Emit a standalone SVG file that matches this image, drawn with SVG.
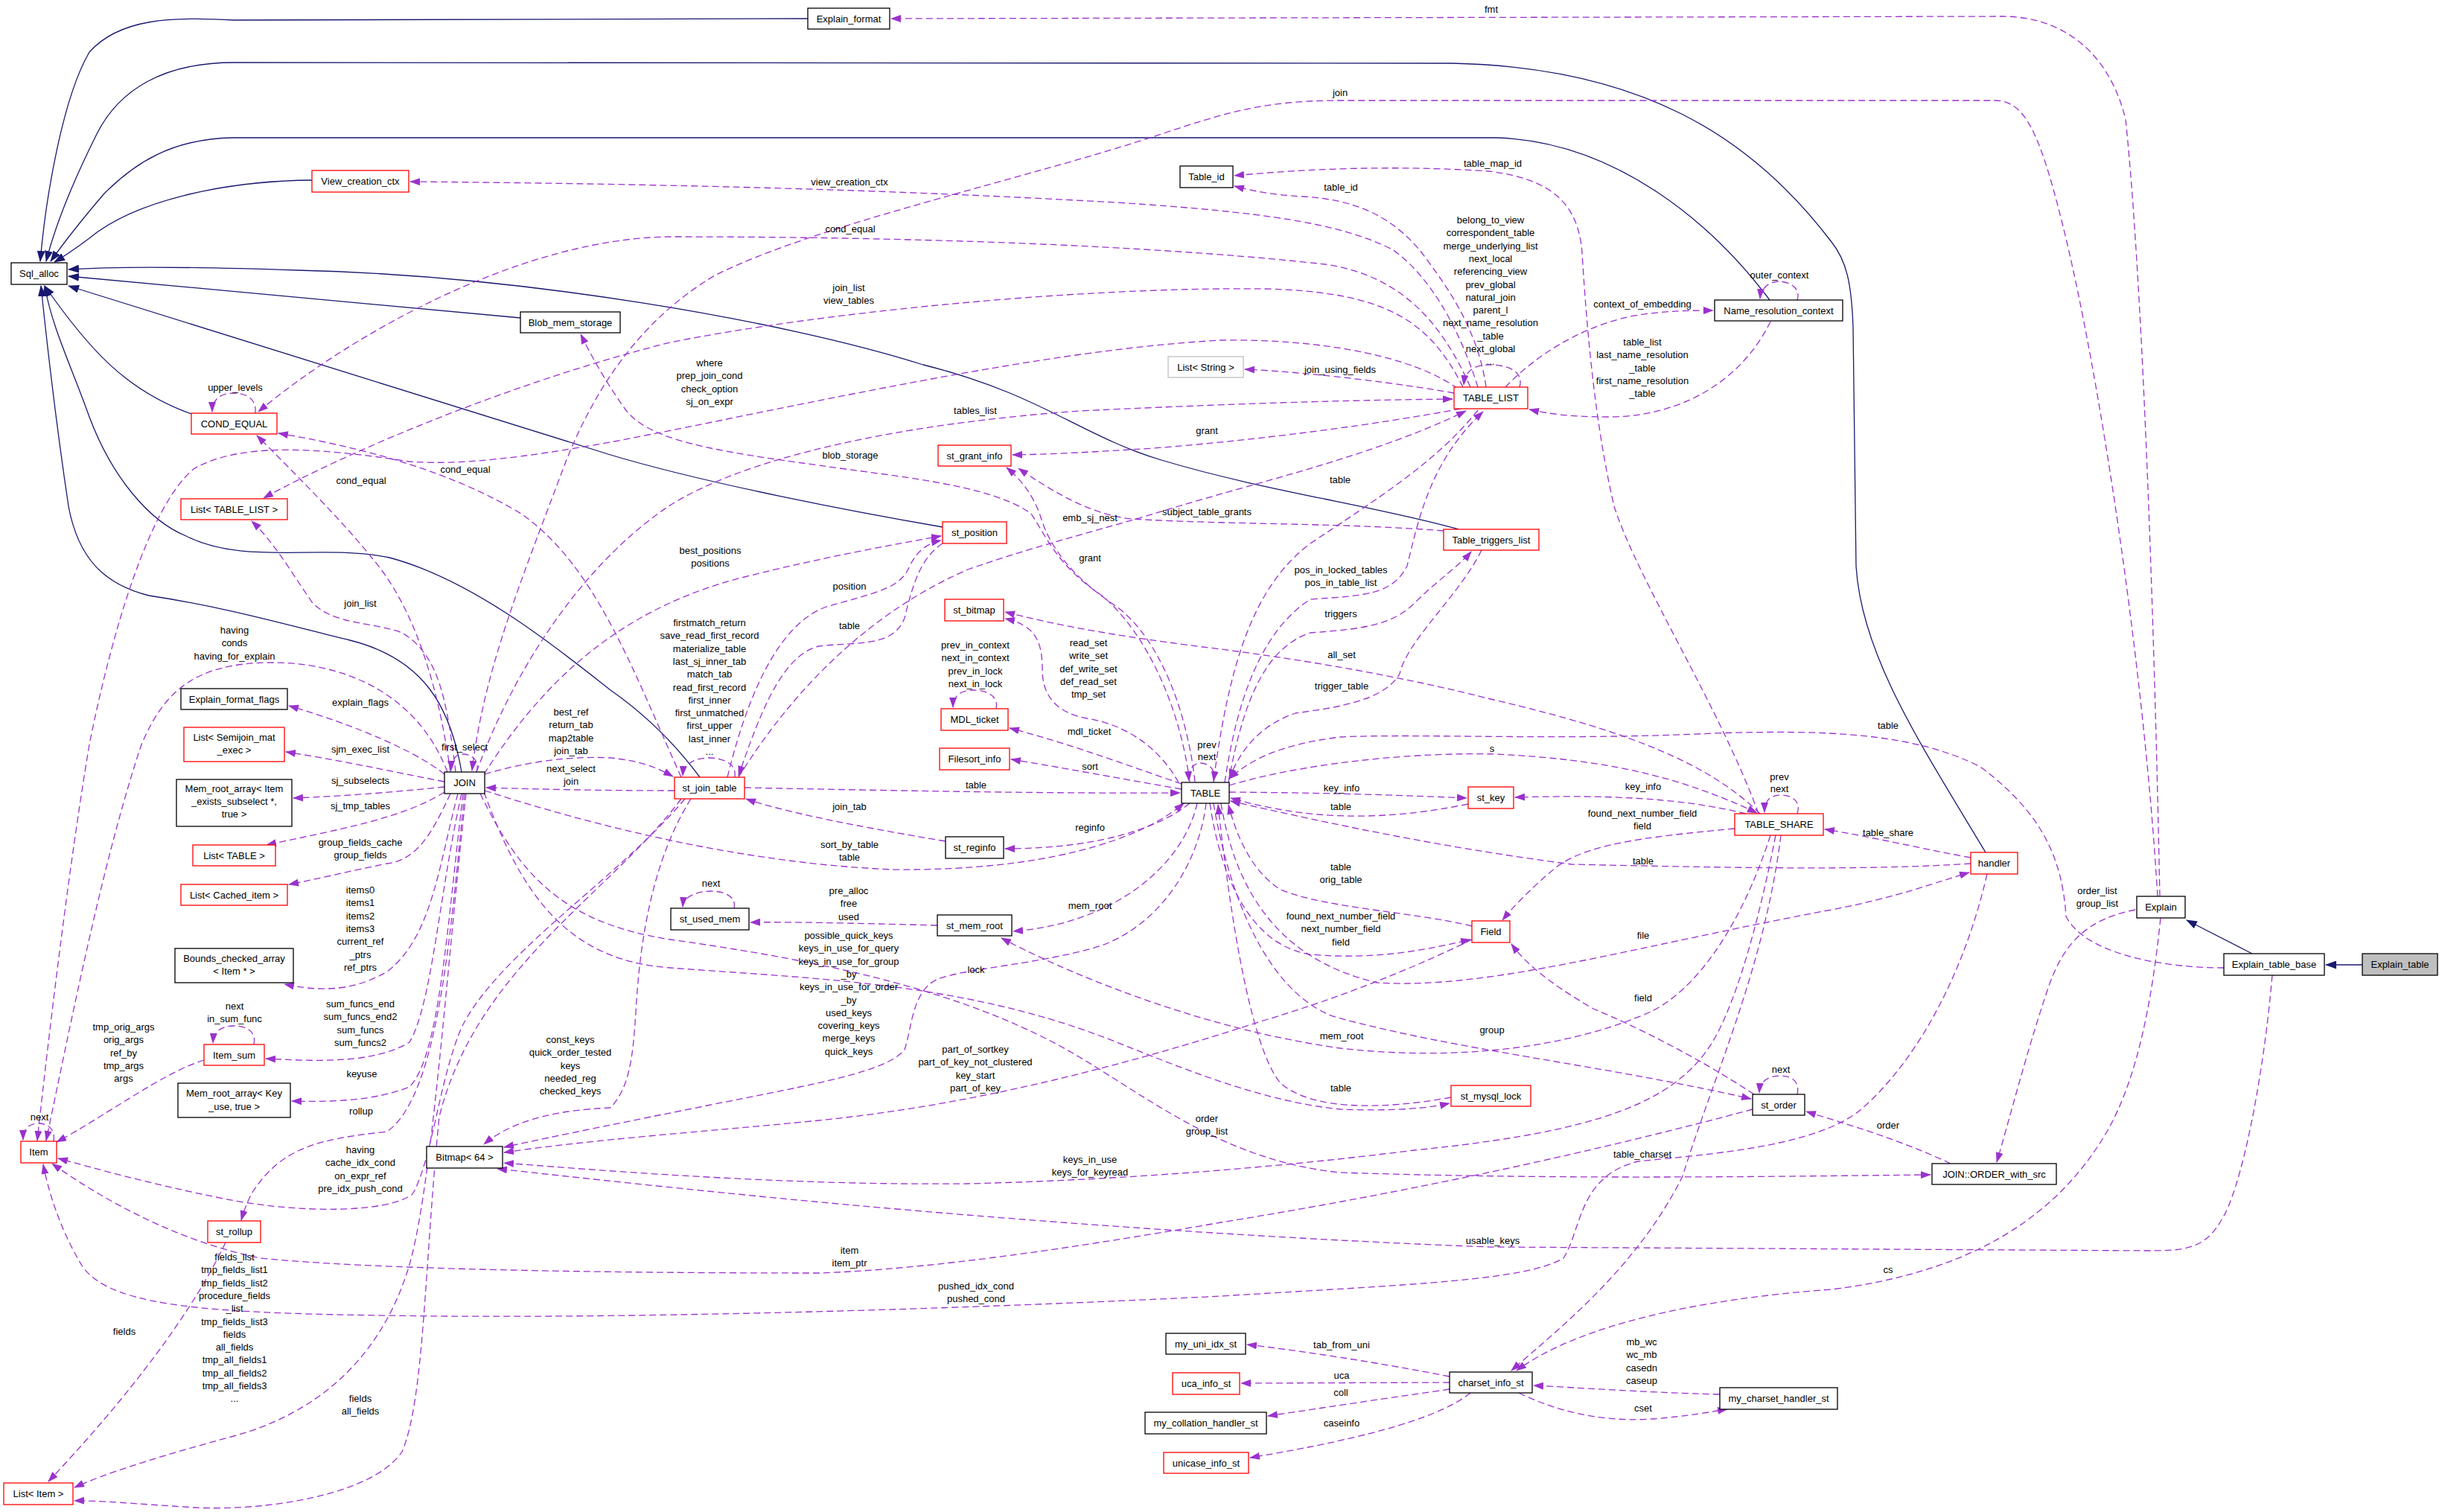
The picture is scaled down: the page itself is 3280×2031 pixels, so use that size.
<svg xmlns="http://www.w3.org/2000/svg" width="3280" height="2031" viewBox="0 0 3280 2031">
<style>
.t{font-family:"Liberation Sans",Arial,sans-serif;font-size:13px;text-anchor:middle;fill:#000}
.d{fill:none;stroke:#9a32cd;stroke-width:1.3;stroke-dasharray:9,5;marker-end:url(#ap)}
.n{fill:none;stroke:#191970;stroke-width:1.3;marker-end:url(#an)}
.b{fill:#fff;stroke:#000;stroke-width:1.3}
.r{fill:#fff;stroke:#f00;stroke-width:1.3}
.g{fill:#fff;stroke:#bfbfbf;stroke-width:1.3}
.f{fill:#bfbfbf;stroke:#000;stroke-width:1.3}
</style>
<defs>
<marker id="ap" viewBox="0 0 14 10" refX="13" refY="5" markerWidth="14" markerHeight="10" markerUnits="userSpaceOnUse" orient="auto"><path d="M0,0 L14,5 L0,10 z" fill="#9a32cd"/></marker>
<marker id="an" viewBox="0 0 15 11" refX="14" refY="5.5" markerWidth="15" markerHeight="11" markerUnits="userSpaceOnUse" orient="auto"><path d="M0,0 L15,5.5 L0,11 z" fill="#191970"/></marker>
</defs>
<rect width="3280" height="2031" fill="#fff"/>
<g id="edges">
<path class="n" d="M1085,25 L314,27 C230,22 160,25 120,70 C85,130 62,260 54,351"/>
<path class="n" d="M2667,1145 C2580,1000 2500,880 2493,760 L2489,440 C2487,380 2480,350 2460,325 C2350,180 2200,90 1950,85 L314,84 C220,84 160,120 130,180 C100,240 75,300 62,351"/>
<path class="n" d="M2377,403 C2300,300 2170,190 2010,185 L314,185 C230,186 180,220 140,260 C110,295 90,320 68,351"/>
<path class="n" d="M419,242 C300,243 180,270 120,320 C100,335 85,345 73,352"/>
<path class="n" d="M699,427 L92,371"/>
<path class="n" d="M1959,711 C1850,680 1700,660 1560,618 C1450,585 1400,530 1240,490 C1050,430 700,370 400,363 C250,358 150,358 92,362"/>
<path class="n" d="M1266,708 C1150,688 950,650 820,611 L92,384"/>
<path class="n" d="M257,556 C170,525 120,470 60,384"/>
<path class="n" d="M620,1037 C605,950 570,885 470,860 C380,838 300,815 200,800 C140,785 105,750 92,680 C80,600 65,480 55,384"/>
<path class="n" d="M940,1044 C900,990 860,955 820,927 C760,880 640,780 523,749 C430,730 330,760 250,720 C200,700 150,640 120,560 C95,490 70,440 60,384"/>
<path class="n" d="M3025,1281 L2937,1236"/>
<path class="n" d="M3173,1296 L3124,1296"/>

<path class="d" d="M2901,1204 C2895,900 2880,400 2855,160 C2830,60 2760,22 2690,22 L1197,25"/>
<path class="d" d="M2898,1204 C2880,900 2820,500 2770,300 C2740,180 2720,135 2680,135 L1800,135 C1700,135 1650,150 1560,180 C1380,240 1100,300 960,370 C860,430 800,520 760,620 C700,780 650,900 634,1035"/>
<path class="d" d="M2362,1093 C2310,950 2200,780 2168,680 C2140,560 2130,420 2125,340 C2120,270 2080,240 2000,230 C1880,222 1760,226 1658,236"/>
<path class="d" d="M1996,520 C1985,440 1940,380 1910,340 C1870,290 1820,268 1750,264 C1710,262 1680,256 1658,250"/>
<path class="d" d="M1985,520 C1960,440 1920,370 1870,335 C1800,300 1700,285 1500,272 C1200,255 900,247 551,244"/>
<path class="d" d="M1975,520 C1935,430 1880,370 1780,355 C1600,335 1300,318 900,318 C700,320 470,450 347,553"/>
<path class="d" d="M1965,520 C1920,430 1860,392 1700,388 C1450,385 1100,420 900,460 C700,510 480,600 354,669"/>
<path class="d" d="M1958,522 C1900,480 1780,455 1640,457 C1400,470 1100,540 820,594 C700,615 620,625 550,620 C420,600 320,595 260,630 C200,680 150,850 120,1000 C95,1150 70,1350 50,1532"/>
<path class="d" d="M2041,520 C2048,496 2020,490 2000,490 C1980,490 1968,498 1966,517"/>
<path class="d" d="M2414,403 C2420,385 2400,378 2390,378 C2375,378 2365,388 2364,401"/>
<path class="d" d="M2022,520 C2060,480 2120,440 2190,425 C2230,418 2260,417 2301,417"/>
<path class="d" d="M2378,432 C2340,510 2260,560 2160,560 C2110,560 2080,556 2054,550"/>
<path class="d" d="M1953,528 C1880,515 1760,500 1672,496"/>
<path class="d" d="M640,1037 C690,900 780,760 898,680 C1000,615 1200,570 1450,552 C1700,540 1850,537 1951,536"/>
<path class="d" d="M1962,549 C1850,570 1700,590 1550,602 C1470,607 1420,610 1360,611"/>
<path class="d" d="M1598,1050 C1585,950 1540,850 1480,800 C1420,760 1405,720 1385,690 C1330,650 1200,640 1100,625 C950,605 870,590 840,550 C815,515 795,480 780,449"/>
<path class="d" d="M1605,1050 C1595,960 1560,860 1500,815 C1440,775 1410,735 1398,695 C1388,665 1372,645 1352,628"/>
<path class="d" d="M1985,551 C1930,620 1850,670 1760,730 C1680,790 1650,900 1630,1049"/>
<path class="d" d="M343,555 C345,535 330,528 314,528 C298,528 285,535 285,553"/>
<path class="d" d="M915,1044 C850,900 800,760 700,690 C600,630 480,600 374,582"/>
<path class="d" d="M605,1037 C590,930 560,820 500,750 C460,700 400,640 345,585"/>
<path class="d" d="M1939,713 C1800,702 1650,705 1520,697 C1470,692 1420,665 1368,629"/>
<path class="d" d="M650,1040 C720,930 820,820 1000,775 C1100,750 1180,735 1264,720"/>
<path class="d" d="M977,1044 C1000,950 1040,840 1110,815 C1180,795 1210,790 1222,760 C1232,740 1245,730 1264,726"/>
<path class="d" d="M1266,730 C1235,750 1225,790 1215,830 C1200,870 1150,862 1100,868 C1050,880 1020,960 992,1042"/>
<path class="d" d="M987,1044 C990,1025 970,1018 952,1018 C935,1018 918,1025 917,1042"/>
<path class="d" d="M1338,952 C1342,935 1325,927 1308,927 C1290,927 1280,935 1280,950"/>
<path class="d" d="M1583,1051 C1560,1010 1520,975 1460,965 C1420,958 1400,935 1400,900 C1400,860 1390,840 1350,831"/>
<path class="d" d="M2364,1093 C2300,1030 2200,985 2006,940 C1850,900 1700,880 1640,872 C1500,855 1420,840 1350,822"/>
<path class="d" d="M1587,1053 C1520,1030 1440,1000 1356,978"/>
<path class="d" d="M1630,1051 C1635,1030 1620,1025 1612,1025 C1602,1025 1596,1035 1597,1049"/>
<path class="d" d="M1587,1060 C1500,1045 1420,1030 1358,1020"/>
<path class="d" d="M1000,1058 C1200,1062 1400,1066 1585,1065"/>
<path class="d" d="M1270,1130 C1150,1110 1050,1090 1002,1073"/>
<path class="d" d="M1598,1079 C1560,1110 1480,1140 1350,1140"/>
<path class="d" d="M651,1062 C800,1110 1000,1160 1200,1168 C1400,1170 1530,1130 1590,1079"/>
<path class="d" d="M986,1220 C990,1203 970,1197 955,1197 C935,1197 918,1205 917,1218"/>
<path class="d" d="M1259,1243 C1150,1240 1050,1238 1008,1239"/>
<path class="d" d="M1608,1079 C1590,1160 1500,1240 1361,1251"/>
<path class="d" d="M1620,1079 C1610,1160 1560,1240 1480,1270 C1400,1295 1300,1300 1260,1315 C1225,1330 1225,1380 1215,1410 C1190,1440 1100,1455 950,1485 C850,1505 750,1525 677,1541"/>
<path class="d" d="M650,1064 C700,1200 760,1290 900,1300 C1100,1315 1300,1320 1500,1400 C1600,1440 1700,1480 1800,1490 C1880,1493 1920,1488 1947,1482"/>
<path class="d" d="M645,1066 C700,1180 760,1240 900,1262 C1100,1290 1300,1330 1450,1420 C1550,1480 1650,1560 1800,1575 C2100,1585 2400,1580 2593,1578"/>
<path class="d" d="M1949,1474 C1850,1492 1760,1490 1720,1455 C1690,1420 1660,1300 1636,1081"/>
<path class="d" d="M1977,1262 C1900,1300 1800,1340 1700,1370 C1500,1435 1300,1485 1100,1505 C950,1520 800,1530 677,1548"/>
<path class="d" d="M1630,1079 C1650,1200 1700,1330 1790,1365 C1950,1410 2150,1430 2352,1476"/>
<path class="d" d="M2378,1122 C2340,1240 2280,1330 2215,1360 C2100,1410 1950,1425 1800,1408 C1600,1380 1420,1300 1345,1260"/>
<path class="d" d="M2385,1122 C2360,1250 2330,1350 2300,1400 C2250,1480 2150,1520 1900,1545 C1700,1570 1500,1585 1300,1590 C1100,1592 900,1580 677,1562"/>
<path class="d" d="M2392,1122 C2370,1300 2300,1450 2260,1580 C2200,1700 2100,1780 2030,1841"/>
<path class="d" d="M2902,1233 C2890,1350 2870,1450 2830,1520 C2760,1640 2640,1710 2460,1732 C2280,1745 2120,1780 2037,1841"/>
<path class="d" d="M3052,1310 C3040,1450 3010,1600 2983,1640 C2960,1680 2930,1680 2880,1680 L2000,1675 C1600,1660 1200,1625 1000,1605 C850,1590 760,1580 668,1570"/>
<path class="d" d="M2868,1222 C2800,1235 2770,1270 2750,1330 C2720,1420 2700,1500 2682,1561"/>
<path class="d" d="M2620,1563 C2550,1530 2480,1510 2426,1493"/>
<path class="d" d="M2414,1470 C2418,1452 2405,1445 2392,1445 C2375,1445 2364,1452 2363,1468"/>
<path class="d" d="M2356,1470 C2280,1420 2200,1380 2140,1355 C2080,1320 2050,1295 2030,1268"/>
<path class="d" d="M2354,1490 C2150,1545 1900,1600 1640,1642 C1450,1675 1250,1705 1100,1710 C800,1710 500,1705 350,1690 C250,1670 150,1620 70,1563"/>
<path class="d" d="M2669,1174 C2640,1300 2580,1420 2500,1490 C2440,1540 2300,1550 2200,1560 C2120,1580 2125,1650 2100,1690 C2050,1720 1900,1725 1640,1741 C1300,1758 900,1770 600,1768 C300,1765 150,1760 110,1700 C80,1650 65,1600 58,1564"/>
<path class="d" d="M1640,1079 C1660,1200 1720,1290 1850,1320 C2000,1330 2200,1270 2460,1222 C2550,1205 2600,1185 2645,1172"/>
<path class="d" d="M2647,1160 C2500,1170 2300,1165 2111,1161 C1950,1140 1800,1110 1653,1076"/>
<path class="d" d="M2647,1152 C2580,1140 2520,1125 2451,1114"/>
<path class="d" d="M2987,1300 C2900,1300 2800,1280 2775,1231 C2770,1150 2740,1090 2660,1030 C2570,985 2460,980 2300,985 C2100,995 1900,985 1800,990 C1720,1000 1680,1020 1651,1046"/>
<path class="d" d="M1651,1055 C1750,1025 1900,1010 2010,1013 C2150,1020 2250,1040 2360,1092"/>
<path class="d" d="M2414,1093 C2420,1075 2405,1068 2392,1068 C2378,1068 2370,1075 2370,1091"/>
<path class="d" d="M1651,1064 C1800,1065 1900,1069 1970,1072"/>
<path class="d" d="M1972,1080 C1850,1105 1750,1100 1653,1072"/>
<path class="d" d="M2345,1093 C2250,1070 2150,1068 2035,1071"/>
<path class="d" d="M2330,1113 C2200,1125 2130,1135 2090,1165 C2060,1190 2035,1215 2018,1236"/>
<path class="d" d="M1977,1244 C1900,1225 1780,1220 1720,1195 C1680,1170 1660,1120 1650,1081"/>
<path class="d" d="M1625,1079 C1640,1180 1680,1270 1760,1282 C1850,1290 1920,1275 1975,1262"/>
<path class="d" d="M1645,1051 C1660,950 1690,850 1760,805 C1830,800 1870,800 1890,760 C1905,700 1920,620 1992,553"/>
<path class="d" d="M1650,1051 C1670,940 1700,870 1760,850 C1830,845 1870,840 1900,810 C1930,780 1960,760 1976,741"/>
<path class="d" d="M1990,739 C1960,800 1890,860 1880,905 C1860,940 1800,950 1740,958 C1690,975 1665,1010 1651,1046"/>
<path class="d" d="M992,1044 C1050,950 1150,830 1300,765 C1400,730 1480,712 1583,680 C1700,645 1850,610 1969,552"/>
<path class="d" d="M601,1037 C560,930 460,890 366,890 C260,890 220,930 190,1000 C140,1150 100,1350 62,1532"/>
<path class="d" d="M612,1037 C600,940 590,880 540,850 C500,835 450,840 420,810 C395,775 370,730 338,700"/>
<path class="d" d="M597,1040 C560,1010 480,975 388,948"/>
<path class="d" d="M597,1050 C520,1035 450,1020 384,1010"/>
<path class="d" d="M597,1057 C520,1065 450,1070 394,1072"/>
<path class="d" d="M597,1064 C540,1100 450,1115 358,1135"/>
<path class="d" d="M605,1066 C580,1120 560,1155 520,1160 C470,1170 430,1180 388,1188"/>
<path class="d" d="M615,1066 C590,1160 580,1260 520,1305 C470,1335 420,1330 382,1322"/>
<path class="d" d="M620,1066 C590,1200 580,1350 550,1400 C500,1430 420,1425 357,1422"/>
<path class="d" d="M622,1066 C600,1250 590,1420 550,1460 C500,1480 440,1480 392,1479"/>
<path class="d" d="M624,1066 C605,1250 590,1470 520,1520 C430,1530 380,1540 340,1600 C333,1612 328,1625 324,1639"/>
<path class="d" d="M626,1066 C600,1300 580,1600 549,1702 C510,1830 420,1900 314,1929 C200,1960 140,1980 100,1998"/>
<path class="d" d="M915,1073 C820,1200 640,1300 590,1500 C570,1700 570,1880 540,1950 C500,2010 350,2030 262,2025 C180,2020 130,2015 100,2016"/>
<path class="d" d="M920,1073 C830,1180 670,1280 620,1380 C590,1450 580,1560 554,1604 C520,1630 400,1630 300,1610 C200,1590 130,1570 78,1556"/>
<path class="d" d="M928,1073 C880,1150 860,1250 854,1360 C850,1420 846,1460 820,1488 C780,1490 700,1495 650,1537"/>
<path class="d" d="M303,1669 C250,1780 150,1900 65,1990"/>
<path class="d" d="M274,1424 C220,1440 140,1500 76,1534"/>
<path class="d" d="M341,1403 C345,1385 330,1378 314,1378 C298,1378 287,1385 286,1401"/>
<path class="d" d="M72,1533 C75,1515 62,1509 52,1509 C40,1509 31,1515 31,1531"/>
<path class="d" d="M1947,1849 C1850,1830 1750,1815 1675,1806"/>
<path class="d" d="M1947,1857 L1667,1858"/>
<path class="d" d="M1947,1866 C1850,1880 1750,1895 1703,1902"/>
<path class="d" d="M1975,1871 C1940,1900 1850,1930 1679,1958"/>
<path class="d" d="M2310,1873 C2200,1870 2120,1864 2060,1861"/>
<path class="d" d="M2040,1871 C2100,1900 2160,1910 2220,1906 C2270,1902 2300,1896 2320,1893"/>
<path class="d" d="M640,1037 C645,1020 632,1013 622,1013 C612,1013 606,1020 606,1035"/>
<path class="d" d="M651,1040 C700,1025 760,1015 820,1018 C860,1022 880,1030 904,1043"/>
<path class="d" d="M906,1062 C800,1062 720,1060 653,1058"/>
</g>
<g id="edge-labels" class="t">
<text x="2003" y="17">fmt</text>
<text x="1800" y="129">join</text>
<text x="2005" y="224">table_map_id</text>
<text x="1801" y="256">table_id</text>
<text x="1141" y="249">view_creation_ctx</text>
<text x="1142" y="312">cond_equal</text>
<text><tspan x="1140" y="391">join_list</tspan><tspan x="1140" dy="17.3">view_tables</tspan></text>
<text><tspan x="953" y="492">where</tspan><tspan x="953" dy="17.3">prep_join_cond</tspan><tspan x="953" dy="17.3">check_option</tspan><tspan x="953" dy="17.3">sj_on_expr</tspan></text>
<text x="1310" y="556">tables_list</text>
<text x="1621" y="583">grant</text>
<text x="1142" y="616">blob_storage</text>
<text x="1800" y="649">table</text>
<text><tspan x="2002" y="300">belong_to_view</tspan><tspan x="2002" dy="17.3">correspondent_table</tspan><tspan x="2002" dy="17.3">merge_underlying_list</tspan><tspan x="2002" dy="17.3">next_local</tspan><tspan x="2002" dy="17.3">referencing_view</tspan><tspan x="2002" dy="17.3">prev_global</tspan><tspan x="2002" dy="17.3">natural_join</tspan><tspan x="2002" dy="17.3">parent_l</tspan><tspan x="2002" dy="17.3">next_name_resolution</tspan><tspan x="2002" dy="17.3">_table</tspan><tspan x="2002" dy="17.3">next_global</tspan><tspan x="2002" dy="17.3">...</tspan></text>
<text x="2390" y="374">outer_context</text>
<text x="2206" y="413">context_of_embedding</text>
<text><tspan x="2206" y="464">table_list</tspan><tspan x="2206" dy="17.3">last_name_resolution</tspan><tspan x="2206" dy="17.3">_table</tspan><tspan x="2206" dy="17.3">first_name_resolution</tspan><tspan x="2206" dy="17.3">_table</tspan></text>
<text x="1800" y="501">join_using_fields</text>
<text x="316" y="525">upper_levels</text>
<text x="625" y="635">cond_equal</text>
<text x="485" y="650">cond_equal</text>
<text x="1464" y="700">emb_sj_nest</text>
<text x="1621" y="692">subject_table_grants</text>
<text x="1464" y="754">grant</text>
<text><tspan x="954" y="744">best_positions</tspan><tspan x="954" dy="17.3">positions</tspan></text>
<text x="1141" y="792">position</text>
<text x="1141" y="845">table</text>
<text><tspan x="953" y="841">firstmatch_return</tspan><tspan x="953" dy="17.3">save_read_first_record</tspan><tspan x="953" dy="17.3">materialize_table</tspan><tspan x="953" dy="17.3">last_sj_inner_tab</tspan><tspan x="953" dy="17.3">match_tab</tspan><tspan x="953" dy="17.3">read_first_record</tspan><tspan x="953" dy="17.3">first_inner</tspan><tspan x="953" dy="17.3">first_unmatched</tspan><tspan x="953" dy="17.3">first_upper</tspan><tspan x="953" dy="17.3">last_inner</tspan><tspan x="953" dy="17.3">...</tspan></text>
<text><tspan x="1310" y="871">prev_in_context</tspan><tspan x="1310" dy="17.3">next_in_context</tspan><tspan x="1310" dy="17.3">prev_in_lock</tspan><tspan x="1310" dy="17.3">next_in_lock</tspan></text>
<text><tspan x="1462" y="868">read_set</tspan><tspan x="1462" dy="17.3">write_set</tspan><tspan x="1462" dy="17.3">def_write_set</tspan><tspan x="1462" dy="17.3">def_read_set</tspan><tspan x="1462" dy="17.3">tmp_set</tspan></text>
<text x="1463" y="987">mdl_ticket</text>
<text><tspan x="1621" y="1005">prev</tspan><tspan x="1621" dy="16">next</tspan></text>
<text x="1464" y="1034">sort</text>
<text x="1311" y="1059">table</text>
<text x="1141" y="1088">join_tab</text>
<text x="1464" y="1116">reginfo</text>
<text><tspan x="1141" y="1139">sort_by_table</tspan><tspan x="1141" dy="17.3">table</tspan></text>
<text x="955" y="1191">next</text>
<text><tspan x="1140" y="1201">pre_alloc</tspan><tspan x="1140" dy="17.3">free</tspan><tspan x="1140" dy="17.3">used</tspan></text>
<text x="1464" y="1221">mem_root</text>
<text><tspan x="1140" y="1261">possible_quick_keys</tspan><tspan x="1140" dy="17.3">keys_in_use_for_query</tspan><tspan x="1140" dy="17.3">keys_in_use_for_group</tspan><tspan x="1140" dy="17.3">_by</tspan><tspan x="1140" dy="17.3">keys_in_use_for_order</tspan><tspan x="1140" dy="17.3">_by</tspan><tspan x="1140" dy="17.3">used_keys</tspan><tspan x="1140" dy="17.3">covering_keys</tspan><tspan x="1140" dy="17.3">merge_keys</tspan><tspan x="1140" dy="17.3">quick_keys</tspan></text>
<text x="1311" y="1307">lock</text>
<text><tspan x="1310" y="1414">part_of_sortkey</tspan><tspan x="1310" dy="17.3">part_of_key_not_clustered</tspan><tspan x="1310" dy="17.3">key_start</tspan><tspan x="1310" dy="17.3">part_of_key</tspan></text>
<text><tspan x="1621" y="1507">order</tspan><tspan x="1621" dy="17.3">group_list</tspan></text>
<text><tspan x="1464" y="1562">keys_in_use</tspan><tspan x="1464" dy="17.3">keys_for_keyread</tspan></text>
<text><tspan x="1141" y="1684">item</tspan><tspan x="1141" dy="17.3">item_ptr</tspan></text>
<text><tspan x="1311" y="1732">pushed_idx_cond</tspan><tspan x="1311" dy="17.3">pushed_cond</tspan></text>
<text><tspan x="1801" y="770">pos_in_locked_tables</tspan><tspan x="1801" dy="17.3">pos_in_table_list</tspan></text>
<text x="1801" y="829">triggers</text>
<text x="1802" y="884">all_set</text>
<text x="1802" y="926">trigger_table</text>
<text x="2004" y="1010">s</text>
<text x="1802" y="1063">key_info</text>
<text x="1801" y="1088">table</text>
<text x="2207" y="1061">key_info</text>
<text><tspan x="2390" y="1048">prev</tspan><tspan x="2390" dy="16">next</tspan></text>
<text><tspan x="2206" y="1097">found_next_number_field</tspan><tspan x="2206" dy="17.3">field</tspan></text>
<text x="2207" y="1161">table</text>
<text><tspan x="1801" y="1169">table</tspan><tspan x="1801" dy="17.3">orig_table</tspan></text>
<text><tspan x="1801" y="1235">found_next_number_field</tspan><tspan x="1801" dy="17.3">next_number_field</tspan><tspan x="1801" dy="17.3">field</tspan></text>
<text x="2207" y="1261">file</text>
<text x="2207" y="1345">field</text>
<text x="2536" y="979">table</text>
<text x="2536" y="1123">table_share</text>
<text><tspan x="2817" y="1201">order_list</tspan><tspan x="2817" dy="17.3">group_list</tspan></text>
<text x="1802" y="1396">mem_root</text>
<text x="2004" y="1388">group</text>
<text x="1801" y="1466">table</text>
<text x="2392" y="1441">next</text>
<text x="2206" y="1555">table_charset</text>
<text x="2005" y="1671">usable_keys</text>
<text x="1802" y="1811">tab_from_uni</text>
<text x="1802" y="1852">uca</text>
<text x="1801" y="1875">coll</text>
<text x="1802" y="1916">caseinfo</text>
<text><tspan x="2205" y="1807">mb_wc</tspan><tspan x="2205" dy="17.3">wc_mb</tspan><tspan x="2205" dy="17.3">casedn</tspan><tspan x="2205" dy="17.3">caseup</tspan></text>
<text x="2207" y="1896">cset</text>
<text x="2536" y="1516">order</text>
<text x="2536" y="1710">cs</text>
<text x="484" y="815">join_list</text>
<text><tspan x="315" y="851">having</tspan><tspan x="315" dy="17.3">conds</tspan><tspan x="315" dy="17.3">having_for_explain</tspan></text>
<text x="484" y="948">explain_flags</text>
<text x="484" y="1011">sjm_exec_list</text>
<text x="624" y="1008">first_select</text>
<text><tspan x="767" y="961">best_ref</tspan><tspan x="767" dy="17.3">return_tab</tspan><tspan x="767" dy="17.3">map2table</tspan><tspan x="767" dy="17.3">join_tab</tspan></text>
<text><tspan x="767" y="1037">next_select</tspan><tspan x="767" dy="17.3">join</tspan></text>
<text x="484" y="1053">sj_subselects</text>
<text x="484" y="1087">sj_tmp_tables</text>
<text><tspan x="484" y="1136">group_fields_cache</tspan><tspan x="484" dy="17.3">group_fields</tspan></text>
<text><tspan x="484" y="1200">items0</tspan><tspan x="484" dy="17.3">items1</tspan><tspan x="484" dy="17.3">items2</tspan><tspan x="484" dy="17.3">items3</tspan><tspan x="484" dy="17.3">current_ref</tspan><tspan x="484" dy="17.3">_ptrs</tspan><tspan x="484" dy="17.3">ref_ptrs</tspan></text>
<text><tspan x="315" y="1356">next</tspan><tspan x="315" dy="17.3">in_sum_func</tspan></text>
<text><tspan x="484" y="1353">sum_funcs_end</tspan><tspan x="484" dy="17.3">sum_funcs_end2</tspan><tspan x="484" dy="17.3">sum_funcs</tspan><tspan x="484" dy="17.3">sum_funcs2</tspan></text>
<text><tspan x="166" y="1384">tmp_orig_args</tspan><tspan x="166" dy="17.3">orig_args</tspan><tspan x="166" dy="17.3">ref_by</tspan><tspan x="166" dy="17.3">tmp_args</tspan><tspan x="166" dy="17.3">args</tspan></text>
<text x="486" y="1447">keyuse</text>
<text x="485" y="1497">rollup</text>
<text x="53" y="1505">next</text>
<text><tspan x="484" y="1549">having</tspan><tspan x="484" dy="17.3">cache_idx_cond</tspan><tspan x="484" dy="17.3">on_expr_ref</tspan><tspan x="484" dy="17.3">pre_idx_push_cond</tspan></text>
<text><tspan x="766" y="1401">const_keys</tspan><tspan x="766" dy="17.3">quick_order_tested</tspan><tspan x="766" dy="17.3">keys</tspan><tspan x="766" dy="17.3">needed_reg</tspan><tspan x="766" dy="17.3">checked_keys</tspan></text>
<text><tspan x="315" y="1693">fields_list</tspan><tspan x="315" dy="17.3">tmp_fields_list1</tspan><tspan x="315" dy="17.3">tmp_fields_list2</tspan><tspan x="315" dy="17.3">procedure_fields</tspan><tspan x="315" dy="17.3">_list</tspan><tspan x="315" dy="17.3">tmp_fields_list3</tspan><tspan x="315" dy="17.3">fields</tspan><tspan x="315" dy="17.3">all_fields</tspan><tspan x="315" dy="17.3">tmp_all_fields1</tspan><tspan x="315" dy="17.3">tmp_all_fields2</tspan><tspan x="315" dy="17.3">tmp_all_fields3</tspan><tspan x="315" dy="17.3">...</tspan></text>
<text x="167" y="1793">fields</text>
<text><tspan x="484" y="1883">fields</tspan><tspan x="484" dy="17.3">all_fields</tspan></text>
</g>
<g id="node-Sql_alloc"><rect class="b" x="15" y="353" width="75" height="29"/><text class="t" x="52.5" y="372">Sql_alloc</text></g>
<g id="node-Explain_format"><rect class="b" x="1085" y="11" width="110" height="28"/><text class="t" x="1140" y="29.5">Explain_format</text></g>
<g id="node-View_creation_ctx"><rect class="r" x="419" y="229" width="130" height="29"/><text class="t" x="484" y="248">View_creation_ctx</text></g>
<g id="node-Table_id"><rect class="b" x="1585" y="223" width="71" height="29"/><text class="t" x="1620.5" y="242">Table_id</text></g>
<g id="node-Blob_mem_storage"><rect class="b" x="699" y="419" width="134" height="28"/><text class="t" x="766" y="437.5">Blob_mem_storage</text></g>
<g id="node-Name_resolution_context"><rect class="b" x="2303" y="403" width="172" height="28"/><text class="t" x="2389" y="421.5">Name_resolution_context</text></g>
<g id="node-List_String"><rect class="g" x="1569" y="479" width="101" height="28"/><text class="t" x="1619.5" y="497.5">List&lt; String &gt;</text></g>
<g id="node-TABLE_LIST"><rect class="r" x="1953" y="520" width="99" height="29"/><text class="t" x="2002.5" y="539">TABLE_LIST</text></g>
<g id="node-COND_EQUAL"><rect class="r" x="257" y="555" width="115" height="28"/><text class="t" x="314.5" y="573.5">COND_EQUAL</text></g>
<g id="node-st_grant_info"><rect class="r" x="1260" y="598" width="98" height="28"/><text class="t" x="1309" y="616.5">st_grant_info</text></g>
<g id="node-List_TABLE_LIST"><rect class="r" x="243" y="670" width="143" height="28"/><text class="t" x="314.5" y="688.5">List&lt; TABLE_LIST &gt;</text></g>
<g id="node-st_position"><rect class="r" x="1266" y="701" width="86" height="29"/><text class="t" x="1309" y="720">st_position</text></g>
<g id="node-Table_triggers_list"><rect class="r" x="1939" y="711" width="128" height="28"/><text class="t" x="2003" y="729.5">Table_triggers_list</text></g>
<g id="node-st_bitmap"><rect class="r" x="1269" y="805" width="79" height="29"/><text class="t" x="1308.5" y="824">st_bitmap</text></g>
<g id="node-Explain_format_flags"><rect class="b" x="243" y="925" width="143" height="28"/><text class="t" x="314.5" y="943.5">Explain_format_flags</text></g>
<g id="node-MDL_ticket"><rect class="r" x="1264" y="952" width="90" height="29"/><text class="t" x="1309" y="971">MDL_ticket</text></g>
<g id="node-List_Semijoin_mat_exec"><rect class="r" x="247" y="977" width="135" height="46"/><text class="t"><tspan x="314.5" y="995">List&lt; Semijoin_mat</tspan><tspan x="314.5" y="1012">_exec &gt;</tspan></text></g>
<g id="node-Filesort_info"><rect class="r" x="1262" y="1005" width="94" height="29"/><text class="t" x="1309" y="1024">Filesort_info</text></g>
<g id="node-JOIN"><rect class="b" x="597" y="1037" width="54" height="29"/><text class="t" x="624" y="1056">JOIN</text></g>
<g id="node-st_join_table"><rect class="r" x="906" y="1044" width="94" height="29"/><text class="t" x="953" y="1063">st_join_table</text></g>
<g id="node-Mem_root_array_Item"><rect class="b" x="237" y="1047" width="155" height="63"/><text class="t"><tspan x="314.5" y="1064">Mem_root_array&lt; Item</tspan><tspan x="314.5" y="1081">_exists_subselect *,</tspan><tspan x="314.5" y="1098">true &gt;</tspan></text></g>
<g id="node-TABLE"><rect class="b" x="1587" y="1051" width="64" height="28"/><text class="t" x="1619" y="1069.5">TABLE</text></g>
<g id="node-st_key"><rect class="r" x="1972" y="1057" width="61" height="29"/><text class="t" x="2002.5" y="1076">st_key</text></g>
<g id="node-TABLE_SHARE"><rect class="r" x="2330" y="1093" width="119" height="29"/><text class="t" x="2389.5" y="1112">TABLE_SHARE</text></g>
<g id="node-st_reginfo"><rect class="b" x="1270" y="1124" width="78" height="29"/><text class="t" x="1309" y="1143">st_reginfo</text></g>
<g id="node-List_TABLE"><rect class="r" x="259" y="1135" width="111" height="28"/><text class="t" x="314.5" y="1153.5">List&lt; TABLE &gt;</text></g>
<g id="node-handler"><rect class="r" x="2647" y="1145" width="63" height="29"/><text class="t" x="2678.5" y="1164">handler</text></g>
<g id="node-List_Cached_item"><rect class="r" x="243" y="1188" width="143" height="28"/><text class="t" x="314.5" y="1206.5">List&lt; Cached_item &gt;</text></g>
<g id="node-Explain"><rect class="b" x="2870" y="1204" width="65" height="29"/><text class="t" x="2902.5" y="1223">Explain</text></g>
<g id="node-st_used_mem"><rect class="b" x="901" y="1220" width="105" height="29"/><text class="t" x="953.5" y="1239">st_used_mem</text></g>
<g id="node-st_mem_root"><rect class="b" x="1259" y="1229" width="100" height="28"/><text class="t" x="1309" y="1247.5">st_mem_root</text></g>
<g id="node-Field"><rect class="r" x="1977" y="1237" width="51" height="29"/><text class="t" x="2002.5" y="1256">Field</text></g>
<g id="node-Bounds_checked_array"><rect class="b" x="235" y="1274" width="159" height="46"/><text class="t"><tspan x="314.5" y="1292">Bounds_checked_array</tspan><tspan x="314.5" y="1309">&lt; Item * &gt;</tspan></text></g>
<g id="node-Explain_table_base"><rect class="b" x="2987" y="1281" width="135" height="29"/><text class="t" x="3054.5" y="1300">Explain_table_base</text></g>
<g id="node-Explain_table"><rect class="f" x="3173" y="1281" width="101" height="29"/><text class="t" x="3223.5" y="1300">Explain_table</text></g>
<g id="node-Item_sum"><rect class="r" x="274" y="1403" width="81" height="28"/><text class="t" x="314.5" y="1421.5">Item_sum</text></g>
<g id="node-Mem_root_array_Key_use"><rect class="b" x="239" y="1455" width="151" height="46"/><text class="t"><tspan x="314.5" y="1473">Mem_root_array&lt; Key</tspan><tspan x="314.5" y="1491">_use, true &gt;</tspan></text></g>
<g id="node-st_mysql_lock"><rect class="r" x="1949" y="1458" width="107" height="28"/><text class="t" x="2002.5" y="1476.5">st_mysql_lock</text></g>
<g id="node-st_order"><rect class="b" x="2354" y="1470" width="70" height="28"/><text class="t" x="2389" y="1488.5">st_order</text></g>
<g id="node-Item"><rect class="r" x="28" y="1533" width="48" height="29"/><text class="t" x="52" y="1552">Item</text></g>
<g id="node-Bitmap_64"><rect class="b" x="573" y="1540" width="102" height="29"/><text class="t" x="624" y="1559">Bitmap&lt; 64 &gt;</text></g>
<g id="node-JOIN_ORDER_with_src"><rect class="b" x="2595" y="1563" width="167" height="28"/><text class="t" x="2678.5" y="1581.5">JOIN::ORDER_with_src</text></g>
<g id="node-st_rollup"><rect class="r" x="279" y="1640" width="71" height="29"/><text class="t" x="314.5" y="1659">st_rollup</text></g>
<g id="node-my_uni_idx_st"><rect class="b" x="1566" y="1791" width="107" height="28"/><text class="t" x="1619.5" y="1809.5">my_uni_idx_st</text></g>
<g id="node-charset_info_st"><rect class="b" x="1947" y="1843" width="111" height="28"/><text class="t" x="2002.5" y="1861.5">charset_info_st</text></g>
<g id="node-uca_info_st"><rect class="r" x="1575" y="1844" width="90" height="29"/><text class="t" x="1620" y="1863">uca_info_st</text></g>
<g id="node-my_charset_handler_st"><rect class="b" x="2310" y="1864" width="158" height="29"/><text class="t" x="2389" y="1883">my_charset_handler_st</text></g>
<g id="node-my_collation_handler_st"><rect class="b" x="1538" y="1897" width="163" height="29"/><text class="t" x="1619.5" y="1916">my_collation_handler_st</text></g>
<g id="node-unicase_info_st"><rect class="r" x="1563" y="1951" width="114" height="28"/><text class="t" x="1620" y="1969.5">unicase_info_st</text></g>
<g id="node-List_Item"><rect class="r" x="5" y="1992" width="93" height="29"/><text class="t" x="51.5" y="2011">List&lt; Item &gt;</text></g>
</svg>
